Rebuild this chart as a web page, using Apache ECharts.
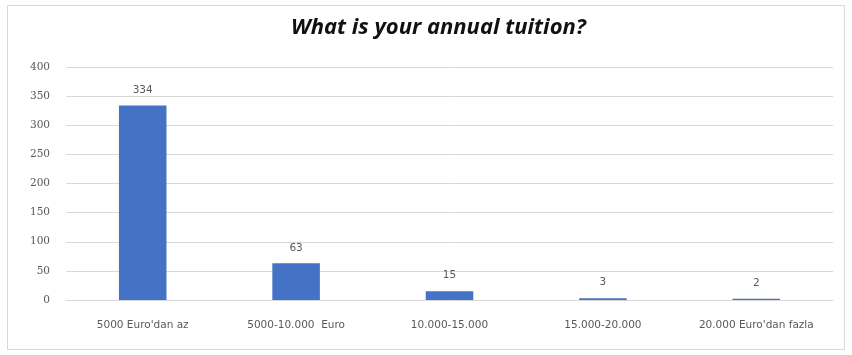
<!DOCTYPE html>
<html><head><meta charset="utf-8">
<script src="https://cdn.jsdelivr.net/npm/echarts@6/dist/echarts.min.js"></script>
<style>
html,body{margin:0;padding:0;background:#fff;}
#frame{position:absolute;left:7px;top:5px;width:838px;height:345px;border:1px solid #d9d9d9;box-sizing:border-box;}
#c{position:absolute;left:0;top:0;width:852px;height:355px;}
</style></head>
<body>
<div id="frame"></div>
<div id="c"></div>
<script>
const categories = ["5000 Euro'dan az", "5000-10.000  Euro", "10.000-15.000", "15.000-20.000", "20.000 Euro'dan fazla"];
const values = [334, 63, 15, 3, 2];
const yTicks = {min: 0, max: 400, interval: 50};
const titleText = "What is your annual tuition?";

const chart = echarts.init(document.getElementById('c'), null, {renderer: 'canvas'});
chart.setOption({
  animation: false,
  title: {
    text: titleText,
    left: 286, top: 12,
    textStyle: {fontFamily: 'Open Sans', fontStyle: 'italic', fontWeight: 'bold', fontSize: 22, color: '#111'}
  },
  grid: {left: 66, right: 19, top: 67, bottom: 55, containLabel: false},
  xAxis: {
    type: 'category', data: categories,
    axisLine: {lineStyle: {color: '#d9d9d9'}},
    axisTick: {show: false},
    axisLabel: {color: '#595959', fontFamily: 'DejaVu Sans', fontSize: 10.5, margin: 20, interval: 0}
  },
  yAxis: {
    type: 'value', min: yTicks.min, max: yTicks.max, interval: yTicks.interval,
    axisLine: {show: false}, axisTick: {show: false},
    splitLine: {lineStyle: {color: '#d9d9d9'}},
    axisLabel: {color: '#595959', fontFamily: 'DejaVu Serif', fontSize: 10.5, margin: 16}
  },
  series: [{
    type: 'bar', data: values, barWidth: '31%',
    itemStyle: {color: '#4472C4'},
    label: {show: true, position: 'top', distance: 10, color: '#595959', fontFamily: 'DejaVu Sans', fontSize: 10.5}
  }]
});
</script>
</body></html>
